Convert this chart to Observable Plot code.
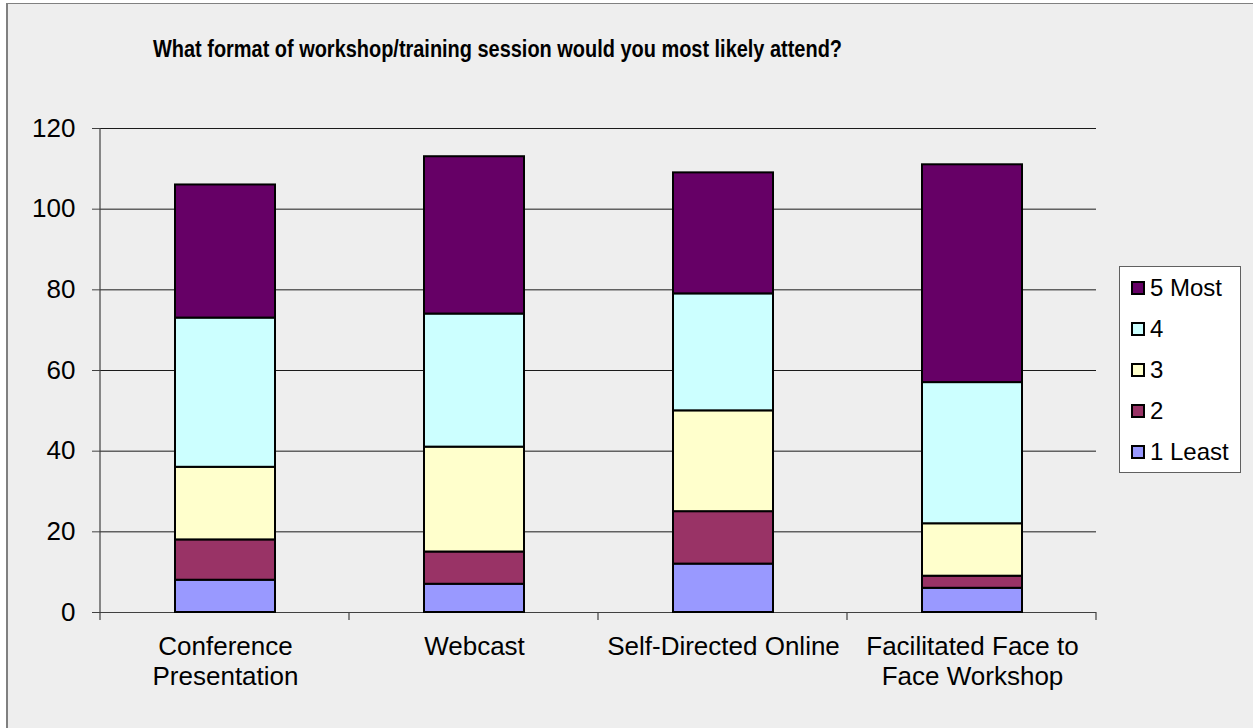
<!DOCTYPE html>
<html>
<head>
<meta charset="utf-8">
<script src="https://cdn.jsdelivr.net/npm/d3@7"></script>
<script src="https://cdn.jsdelivr.net/npm/@observablehq/plot@0.6"></script>
<style>
  html, body { margin: 0; padding: 0; background: #ffffff; }
  #wrap { position: relative; width: 1253px; height: 728px; overflow: hidden; font-family: "Liberation Sans", Arial, sans-serif; }
  #panel { position: absolute; left: 6px; top: 3px; width: 1300px; height: 800px; background: #eeeeee; border-left: 2px solid #808080; border-top: 1px solid #808080; }
  #title { position: absolute; left: 0; top: 0; }
  #plot { position: absolute; left: 0; top: 0; }
  #legend { position: absolute; left: 1119px; top: 266px; width: 120px; height: 205px; background: #ffffff; border: 1px solid #606060; }
  .item { position: absolute; left: 11px; height: 28px; line-height: 28px; font-size: 24px; color: #000; white-space: nowrap; }
  .sw { display: inline-block; width: 10px; height: 10px; border: 2px solid #000; vertical-align: middle; margin-right: 5px; position: relative; top: -2px; }
</style>
</head>
<body>
<div id="wrap">
  <div id="panel"></div>
  <div id="plot"></div>
  <svg id="title" width="1000" height="80"><text x="153" y="57" textLength="689" lengthAdjust="spacingAndGlyphs" font-family="'Liberation Sans', Arial, sans-serif" font-size="23" font-weight="bold" fill="#000"></text></svg>
  <div id="legend"></div>
</div>
<script>
const chartTitle = "What format of workshop/training session would you most likely attend?";
const categories = ["Conference Presentation", "Webcast", "Self-Directed Online", "Facilitated Face to Face Workshop"];
const xTickLabels = ["Conference\nPresentation", "Webcast", "Self-Directed Online", "Facilitated Face to\nFace Workshop"];
const levels = ["1 Least", "2", "3", "4", "5 Most"];
const levelColors = ["#9999ff", "#993366", "#ffffcc", "#ccffff", "#660066"];
const least1 = [8, 7, 12, 6];
const level2 = [10, 8, 13, 3];
const level3 = [18, 26, 25, 13];
const level4 = [37, 33, 29, 35];
const most5 = [33, 39, 30, 54];
const yTicks = [0, 20, 40, 60, 80, 100, 120];

const series = [least1, level2, level3, level4, most5];
const rows = [];
categories.forEach((c, i) => {
  levels.forEach((l, j) => rows.push({category: c, level: l, value: series[j][i]}));
});

document.querySelector("#title text").textContent = chartTitle;

const W = 1253, H = 728;
const mL = 100, mR = 157, mT = 128, mB = 116;

// boundary ticks on the category axis + left axis line
function axisFrame(index, scales, values, dims) {
  const g = d3.create("svg:g");
  const x0 = dims.marginLeft, x1 = dims.width - dims.marginRight;
  const n = categories.length;
  const step = (x1 - x0) / n;
  const yb = scales.y(0), yt = scales.y(yTicks[yTicks.length - 1]);
  g.append("line").attr("x1", x0).attr("x2", x0).attr("y1", yt).attr("y2", yb)
    .attr("stroke", "#404040").attr("stroke-width", 1.2);
  for (let i = 0; i <= n; i++) {
    const xx = x0 + i * step;
    g.append("line").attr("x1", xx).attr("x2", xx).attr("y1", yb).attr("y2", yb + 8)
      .attr("stroke", "#404040").attr("stroke-width", 1.2);
  }
  return g.node();
}

const chart = Plot.plot({
  width: W,
  height: H,
  marginLeft: mL,
  marginRight: mR,
  marginTop: mT,
  marginBottom: mB,
  style: {background: "transparent", fontFamily: "'Liberation Sans', Arial, sans-serif", color: "#000"},
  x: {type: "band", domain: categories, paddingInner: 0.6, paddingOuter: 0.3, label: null},
  y: {domain: [0, 120], label: null},
  color: {domain: levels, range: levelColors},
  marks: [
    Plot.ruleY(yTicks.filter(d => d > 0), {stroke: "#1a1a1a", strokeWidth: 1}),
    Plot.ruleY([0], {stroke: "#404040", strokeWidth: 1.2}),
    Plot.barY(rows, {x: "category", y: "value", fill: "level", stroke: "#000", strokeWidth: 2}),
    Plot.axisY({ticks: yTicks, tickSize: 8, tickPadding: 17, fontSize: 26, stroke: "#404040", label: null}),
    Plot.axisX({tickSize: 0, tickPadding: 21, fontSize: 26, lineHeight: 1.15, label: null,
      tickFormat: d => xTickLabels[categories.indexOf(d)]}),
    axisFrame
  ]
});
document.getElementById("plot").appendChild(chart);

const legend = document.getElementById("legend");
levels.slice().reverse().forEach((l, k) => {
  const it = document.createElement("div");
  it.className = "item";
  it.style.top = (7 + k * 41) + "px";
  const sw = document.createElement("span");
  sw.className = "sw";
  sw.style.background = levelColors[levels.indexOf(l)];
  it.appendChild(sw);
  it.appendChild(document.createTextNode(l));
  legend.appendChild(it);
});
</script>
</body>
</html>
